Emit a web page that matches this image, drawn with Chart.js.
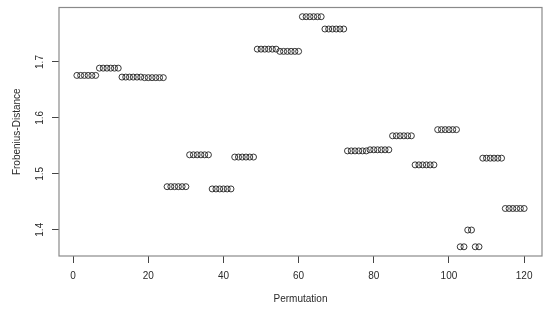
<!DOCTYPE html>
<html>
<head>
<meta charset="utf-8">
<script src="https://cdn.jsdelivr.net/npm/chart.js@4.4.1/dist/chart.umd.min.js"></script>
<style>
  html, body { margin: 0; padding: 0; background: #fff; }
</style>
</head>
<body>
<canvas id="chart" width="550" height="313"></canvas>
<script>
// Frobenius distance for each permutation (1..120)
const frobenius = [
  1.676, 1.676, 1.676, 1.676, 1.676, 1.676,
  1.689, 1.689, 1.689, 1.689, 1.689, 1.689,
  1.673, 1.673, 1.673, 1.673, 1.673, 1.673,
  1.672, 1.672, 1.672, 1.672, 1.672, 1.672,
  1.477, 1.477, 1.477, 1.477, 1.477, 1.477,
  1.534, 1.534, 1.534, 1.534, 1.534, 1.534,
  1.473, 1.473, 1.473, 1.473, 1.473, 1.473,
  1.530, 1.530, 1.530, 1.530, 1.530, 1.530,
  1.723, 1.723, 1.723, 1.723, 1.723, 1.723,
  1.719, 1.719, 1.719, 1.719, 1.719, 1.719,
  1.781, 1.781, 1.781, 1.781, 1.781, 1.781,
  1.759, 1.759, 1.759, 1.759, 1.759, 1.759,
  1.541, 1.541, 1.541, 1.541, 1.541, 1.541,
  1.543, 1.543, 1.543, 1.543, 1.543, 1.543,
  1.568, 1.568, 1.568, 1.568, 1.568, 1.568,
  1.516, 1.516, 1.516, 1.516, 1.516, 1.516,
  1.579, 1.579, 1.579, 1.579, 1.579, 1.579,
  1.3695, 1.3695, 1.3995, 1.3995, 1.3695, 1.3695,
  1.528, 1.528, 1.528, 1.528, 1.528, 1.528,
  1.438, 1.438, 1.438, 1.438, 1.438, 1.438
];
const xTicks = [0, 20, 40, 60, 80, 100, 120];
const yTicks = [1.4, 1.5, 1.6, 1.7];
const xTitle = 'Permutation';
const yTitle = 'Frobenius-Distance';

const FONT = '10px "Liberation Sans", Arial, sans-serif';

// box + axis texts, R style
const rAxes = {
  id: 'rAxes',
  afterDraw(chart) {
    const ctx = chart.ctx;
    const a = chart.chartArea;
    const xs = chart.scales.x, ys = chart.scales.y;
    ctx.save();
    ctx.strokeStyle = '#8a8a8a';
    ctx.lineWidth = 1.2;
    ctx.strokeRect(a.left, a.top, a.right - a.left, a.bottom - a.top);

    ctx.fillStyle = '#2a2a2a';
    ctx.font = FONT;
    ctx.textAlign = 'center';
    ctx.textBaseline = 'middle';
    xTicks.forEach(v => ctx.fillText(String(v), xs.getPixelForValue(v), 276));
    ctx.fillText(xTitle, (a.left + a.right) / 2, 299);

    yTicks.forEach(v => {
      ctx.save();
      ctx.translate(40, ys.getPixelForValue(v));
      ctx.rotate(-Math.PI / 2);
      ctx.fillText(v.toFixed(1), 0, 0);
      ctx.restore();
    });
    ctx.save();
    ctx.translate(17, (a.top + a.bottom) / 2);
    ctx.rotate(-Math.PI / 2);
    ctx.fillText(yTitle, 0, 0);
    ctx.restore();
    ctx.restore();
  }
};

new Chart(document.getElementById('chart'), {
  type: 'scatter',
  data: {
    datasets: [{
      data: frobenius.map((v, i) => ({ x: i + 1, y: v })),
      pointStyle: 'circle',
      pointRadius: 3,
      pointHoverRadius: 3,
      pointBorderWidth: 0.9,
      borderColor: '#222',
      backgroundColor: 'rgba(0,0,0,0)'
    }]
  },
  options: {
    responsive: false,
    animation: false,
    devicePixelRatio: 1,
    layout: { padding: { top: 7.5, right: 8, left: 0, bottom: 0 } },
    plugins: { legend: { display: false }, tooltip: { enabled: false } },
    scales: {
      x: {
        type: 'linear',
        min: -3.76,
        max: 124.76,
        afterBuildTicks: s => { s.ticks = xTicks.map(v => ({ value: v })); },
        afterFit: s => { s.height = 57; },
        ticks: { display: false },
        border: { display: false },
        grid: { drawOnChartArea: false, drawTicks: true, tickLength: 7, color: '#444', lineWidth: 1 }
      },
      y: {
        type: 'linear',
        min: 1.35304,
        max: 1.79746,
        afterBuildTicks: s => { s.ticks = yTicks.map(v => ({ value: v })); },
        afterFit: s => { s.width = 59; },
        ticks: { display: false },
        border: { display: false },
        grid: { drawOnChartArea: false, drawTicks: true, tickLength: 7, color: '#444', lineWidth: 1 }
      }
    }
  },
  plugins: [rAxes]
});
</script>
</body>
</html>
